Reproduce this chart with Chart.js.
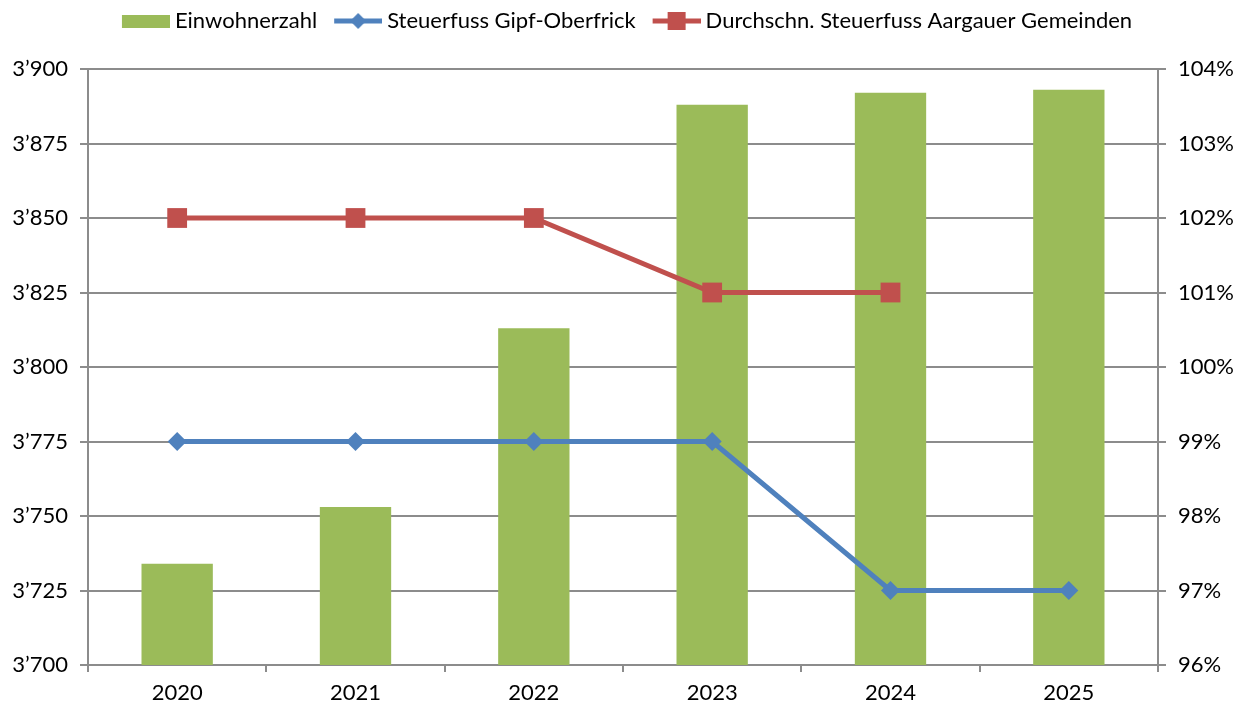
<!DOCTYPE html>
<html>
<head>
<meta charset="utf-8">
<script src="https://cdn.jsdelivr.net/npm/chart.js@4.4.0/dist/chart.umd.min.js"></script>
<style>
  html, body { margin: 0; padding: 0; background: #fff; }
  #wrap { width: 1247px; height: 709px; }
</style>
</head>
<body>
<div id="wrap"><canvas id="c" width="1247" height="709"></canvas></div>
<script>
// data
const years = ['2020', '2021', '2022', '2023', '2024', '2025'];
const einwohner = [3734, 3753, 3813, 3888, 3892, 3893];
const steuerGipf = [99, 99, 99, 99, 97, 97];
const steuerAargau = [102, 102, 102, 101, 101, null];

const GREEN = '#9BBB59';
const BLUE = '#4F81BD';
const RED = '#C0504D';
const GRID = '#8C8C8C';
const FONT = 'Lato, "Noto Sans", sans-serif';
const FS = 22;

// legend swatches (line + marker), drawn a bit wider than the legend box
function swatch(kind, color) {
  const cv = document.createElement('canvas');
  cv.width = 61; cv.height = 20;
  const g = cv.getContext('2d');
  g.fillStyle = color;
  if (kind === 'bar') {
    g.fillRect(13, 4, 48, 13);
    return cv;
  }
  g.strokeStyle = color;
  g.lineWidth = 5;
  g.beginPath(); g.moveTo(13, 10); g.lineTo(61, 10); g.stroke();
  g.beginPath();
  if (kind === 'diamond') {
    g.moveTo(37, 2); g.lineTo(45, 10); g.lineTo(37, 18); g.lineTo(29, 10);
  } else {
    g.rect(28, 1, 18, 18);
  }
  g.closePath(); g.fill();
  return cv;
}
const swatches = [swatch('bar', GREEN), swatch('diamond', BLUE), swatch('square', RED)];

const fmtThousand = v => {
  const s = String(Math.round(v));
  return s.length > 3 ? s.slice(0, -3) + '\u2019' + s.slice(-3) : s;
};

// fixed legend height so the plot starts where it does in the reference
const legendHeight = {
  id: 'legendHeight',
  beforeInit(chart) {
    const fit = chart.legend.fit;
    chart.legend.fit = function () { fit.call(this); this.height = 69; };
  },
};

new Chart(document.getElementById('c'), {
  plugins: [legendHeight],
  data: {
    labels: years,
    datasets: [
      {
        type: 'bar',
        label: 'Einwohnerzahl',
        data: einwohner,
        backgroundColor: GREEN,
        yAxisID: 'y',
        order: 3,
        categoryPercentage: 1,
        barPercentage: 0.4,
      },
      {
        type: 'line',
        label: 'Steuerfuss Gipf-Oberfrick',
        data: steuerGipf,
        borderColor: BLUE,
        backgroundColor: BLUE,
        borderWidth: 5,
        pointStyle: 'rectRot',
        pointRadius: 9.5,
        pointHoverRadius: 9.5,
        pointBorderWidth: 0,
        yAxisID: 'y1',
        order: 1,
        tension: 0,
      },
      {
        type: 'line',
        label: 'Durchschn. Steuerfuss Aargauer Gemeinden',
        data: steuerAargau,
        borderColor: RED,
        backgroundColor: RED,
        borderWidth: 5,
        pointStyle: 'rect',
        pointRadius: 14,
        pointHoverRadius: 14,
        pointBorderWidth: 0,
        yAxisID: 'y1',
        order: 2,
        tension: 0,
      },
    ],
  },
  options: {
    responsive: false,
    animation: false,
    layout: { padding: 0 },
    plugins: {
      tooltip: { enabled: false },
      legend: {
        position: 'top',
        labels: {
          usePointStyle: true,
          pointStyleWidth: 49,
          boxHeight: 18,
          padding: 10,
          color: '#000',
          font: { family: FONT, size: FS, lineHeight: 1 },
          generateLabels: chart => chart.data.datasets.map((ds, i) => ({
            text: ds.label,
            pointStyle: swatches[i],
            fillStyle: 'transparent',
            strokeStyle: 'transparent',
            lineWidth: 0,
            hidden: false,
            datasetIndex: i,
          })),
        },
      },
    },
    scales: {
      x: {
        offset: true,
        grid: { offset: true, drawOnChartArea: false, drawTicks: true, tickLength: 7, color: GRID, lineWidth: 2 },
        border: { color: GRID, width: 2 },
        ticks: { color: '#000', font: { family: FONT, size: FS }, padding: 8 },
        afterFit: s => { s.height = 44; },
      },
      y: {
        position: 'left',
        min: 3700,
        max: 3900,
        ticks: {
          stepSize: 25,
          color: '#000',
          font: { family: FONT, size: FS },
          padding: 12,
          callback: v => fmtThousand(v),
        },
        grid: { color: GRID, lineWidth: 2, tickLength: 8 },
        border: { color: GRID, width: 2 },
        afterFit: s => { s.width = 88; },
      },
      y1: {
        position: 'right',
        min: 96,
        max: 104,
        ticks: {
          stepSize: 1,
          color: '#000',
          font: { family: FONT, size: FS },
          padding: 12,
          callback: v => v + '%',
        },
        grid: { drawOnChartArea: false, color: GRID, lineWidth: 2, tickLength: 8 },
        border: { color: GRID, width: 2 },
        afterFit: s => { s.width = 89; },
      },
    },
  },
});
</script>
</body>
</html>
